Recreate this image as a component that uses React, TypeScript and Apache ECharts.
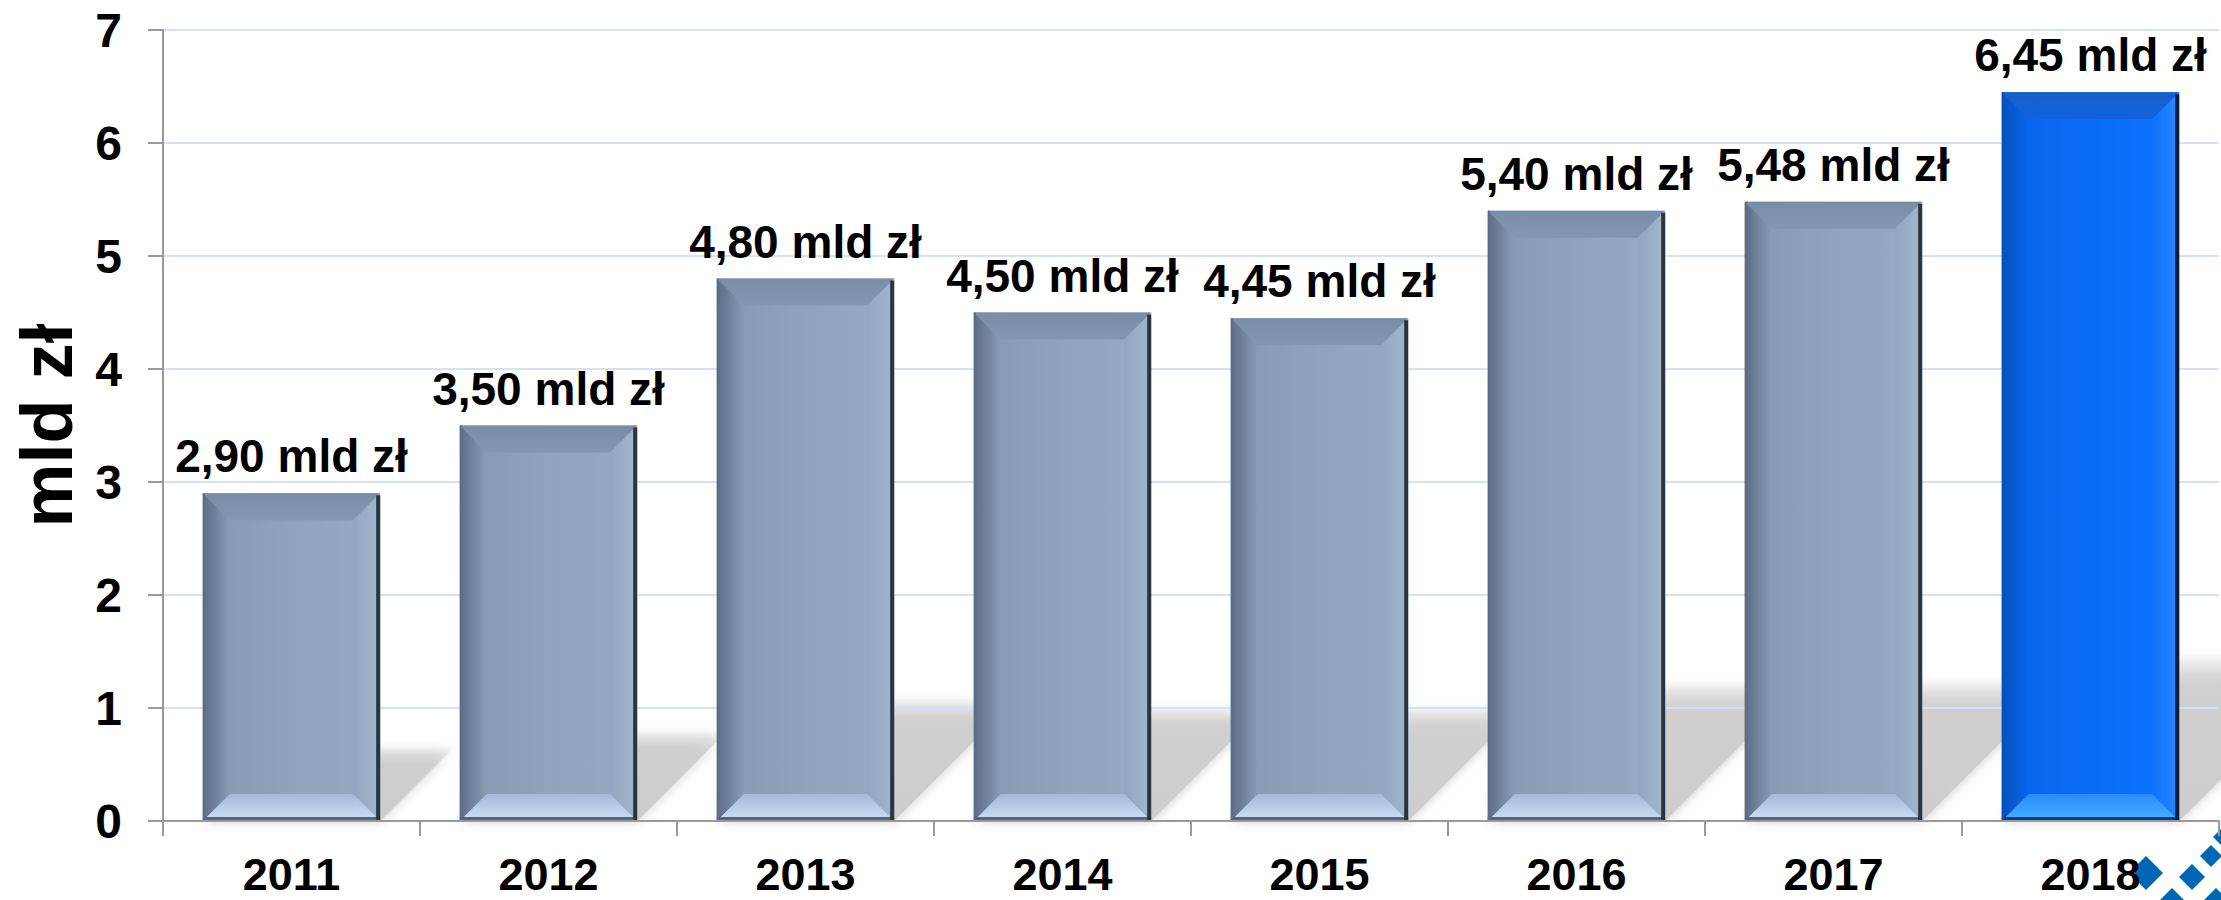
import React, { useEffect, useRef } from 'react';
import * as echarts from 'echarts';

const years = ['2011', '2012', '2013', '2014', '2015', '2016', '2017', '2018'];
const values = [2.9, 3.5, 4.8, 4.5, 4.45, 5.4, 5.48, 6.45];
const valueLabels = ['2,90 mld zł', '3,50 mld zł', '4,80 mld zł', '4,50 mld zł', '4,45 mld zł', '5,40 mld zł', '5,48 mld zł', '6,45 mld zł'];
const highlighted = [false, false, false, false, false, false, false, true];
const yAxisName = 'mld zł';
const yMin = 0;
const yMax = 7;
const yStep = 1;

const FONT = '"Liberation Sans", Arial, Helvetica, sans-serif';

const grayPal = {
  faceL: '#8598b1', face: '#8ea3bc', faceR: '#97abc3',
  leftOuter: '#5c6d85', leftInner: '#889cb5',
  topOuter: '#7a8da6', topInner: '#8497b0',
  rightInner: '#91a6bf', rightOuter: '#a4b7cd',
  edge: '#2b3441',
  botInner: '#a3b9d5', botOuter: '#cde0f7', botEdge: '#566579',
};
const bluePal = {
  faceL: '#0864ea', face: '#0a6cf6', faceR: '#0d74ff',
  leftOuter: '#0650bd', leftInner: '#0966ec',
  topOuter: '#1a5ccb', topInner: '#0f63e0',
  rightInner: '#0c70fa', rightOuter: '#2a8aff',
  edge: '#0a1c42',
  botInner: '#2b8dff', botOuter: '#48aeff', botEdge: '#0a3b88',
};

const lg = (x0: number, y0: number, x1: number, y1: number, c0: string, c1: string) =>
  new echarts.graphic.LinearGradient(x0, y0, x1, y1, [
    { offset: 0, color: c0 },
    { offset: 1, color: c1 },
  ]);

function diamond(cx: number, cy: number, r: number) {
  return {
    type: 'polygon',
    z: -1,
    shape: { points: [[cx, cy - r], [cx + r, cy], [cx, cy + r], [cx - r, cy]] },
    style: { fill: '#0067b4' },
    silent: true,
  };
}

export default function App() {
  const ref = useRef<HTMLDivElement>(null);
  useEffect(() => {
    if (!ref.current) return;
    const chart = echarts.init(ref.current, undefined, { renderer: 'svg' });
    const data = years.map((y, i) => [i, values[i]]);

    const option: any = {
      animation: false,
      backgroundColor: '#ffffff',
      grid: { left: 163, right: 2, top: 30, bottom: 79, containLabel: false },
      xAxis: {
        type: 'category',
        data: years,
        z: 3,
        axisLine: { show: true, lineStyle: { color: '#9a9a9a', width: 2 } },
        axisTick: { show: true, inside: false, length: 15, alignWithLabel: false, lineStyle: { color: '#9a9a9a', width: 2 } },
        axisLabel: { margin: 35, lineHeight: 36, color: '#000', fontSize: 45, fontWeight: 'bold', fontFamily: FONT },
        splitLine: { show: false },
      },
      yAxis: {
        type: 'value',
        min: yMin,
        max: yMax,
        interval: yStep,
        z: 1,
        name: yAxisName,
        nameLocation: 'middle',
        nameRotate: 90,
        nameGap: 80,
        nameTextStyle: { color: '#000', fontSize: 72, fontWeight: 'bold', fontFamily: FONT },
        axisLine: { show: true, lineStyle: { color: '#9a9a9a', width: 2 } },
        axisTick: { show: true, length: 15, lineStyle: { color: '#9a9a9a', width: 2 } },
        axisLabel: { margin: 41, color: '#000', fontSize: 48, fontWeight: 'bold', fontFamily: FONT },
        splitLine: { show: true, lineStyle: { color: '#d3e3f3', width: 2 } },
      },
      graphic: [
        diamond(2146, 873, 17),
        diamond(2192, 877, 13),
        diamond(2211, 856, 11),
        diamond(2225, 837, 12),
        diamond(2172, 900, 12),
        diamond(2216, 900, 12),
      ],
      series: [
        {
          type: 'custom',
          name: 'shadow',
          z: 0,
          silent: true,
          data,
          renderItem: (params: any, api: any) => {
            const i = api.value(0);
            const v = api.value(1);
            const top = api.coord([i, v]);
            const bot = api.coord([i, 0]);
            const band = api.size([1, 0])[0];
            const w = band * 0.69;
            const L = top[0] - w / 2;
            const R = top[0] + w / 2;
            const B = bot[1];
            const h = (B - top[1]) * 0.23;
            return {
              type: 'polygon',
              shape: { points: [[L, B], [R, B], [R + h, B - h], [L + h, B - h]] },
              style: {
                fill: new echarts.graphic.LinearGradient(0, 0, 0, 1, [
                  { offset: 0, color: 'rgba(206,206,206,0)' },
                  { offset: 0.25, color: '#cfcfcf' },
                  { offset: 1, color: '#cdcdcd' },
                ]),
                shadowBlur: 12,
                shadowColor: 'rgba(200,200,200,0.9)',
              },
            };
          },
        },
        {
          type: 'custom',
          name: 'bars',
          z: 2,
          data,
          renderItem: (params: any, api: any) => {
            const i = api.value(0);
            const v = api.value(1);
            const top = api.coord([i, v]);
            const bot = api.coord([i, 0]);
            const band = api.size([1, 0])[0];
            const w = band * 0.69;
            const L = top[0] - w / 2;
            const R = top[0] + w / 2;
            const T = top[1];
            const B = bot[1];
            const b = 27;
            const p = highlighted[i] ? bluePal : grayPal;
            return {
              type: 'group',
              children: [
                {
                  type: 'rect',
                  shape: { x: L, y: T, width: R - L, height: B - T },
                  style: {
                    fill: new echarts.graphic.LinearGradient(0, 0, 1, 0, [
                      { offset: 0, color: p.faceL },
                      { offset: 0.5, color: p.face },
                      { offset: 1, color: p.faceR },
                    ]),
                  },
                },
                {
                  type: 'polygon',
                  shape: { points: [[L, T], [R, T], [R - b, T + b], [L + b, T + b]] },
                  style: { fill: lg(0, 0, 0, 1, p.topOuter, p.topInner) },
                },
                {
                  type: 'polygon',
                  shape: { points: [[L, T], [L + b, T + b], [L + b, B - b], [L, B]] },
                  style: { fill: lg(0, 0, 1, 0, p.leftOuter, p.leftInner) },
                },
                {
                  type: 'polygon',
                  shape: { points: [[R, T], [R, B], [R - b, B - b], [R - b, T + b]] },
                  style: { fill: lg(0, 0, 1, 0, p.rightInner, p.rightOuter) },
                },
                {
                  type: 'polygon',
                  shape: { points: [[L, B], [L + b, B - b], [R - b, B - b], [R, B]] },
                  style: { fill: lg(0, 0, 0, 1, p.botInner, p.botOuter) },
                },
                {
                  type: 'rect',
                  shape: { x: L, y: B - 4, width: R - L, height: 4 },
                  style: { fill: p.botEdge },
                },
                {
                  type: 'rect',
                  shape: { x: R - 4, y: T + 2, width: 4, height: B - T - 2 },
                  style: { fill: p.edge },
                },
                {
                  type: 'rect',
                  shape: { x: L, y: T, width: 2, height: B - T },
                  style: { fill: p.leftOuter },
                },
                {
                  type: 'text',
                  x: (L + R) / 2,
                  y: T - 37,
                  style: {
                    text: valueLabels[i],
                    fill: '#000',
                    font: `bold 46px ${FONT}`,
                    align: 'center',
                    verticalAlign: 'middle',
                  },
                },
              ],
            };
          },
        },
      ],
    };
    chart.setOption(option);
    return () => chart.dispose();
  }, []);

  return (
    <div
      ref={ref}
      style={{ position: 'fixed', left: 0, top: 0, width: 2221, height: 900, background: '#fff' }}
    />
  );
}
